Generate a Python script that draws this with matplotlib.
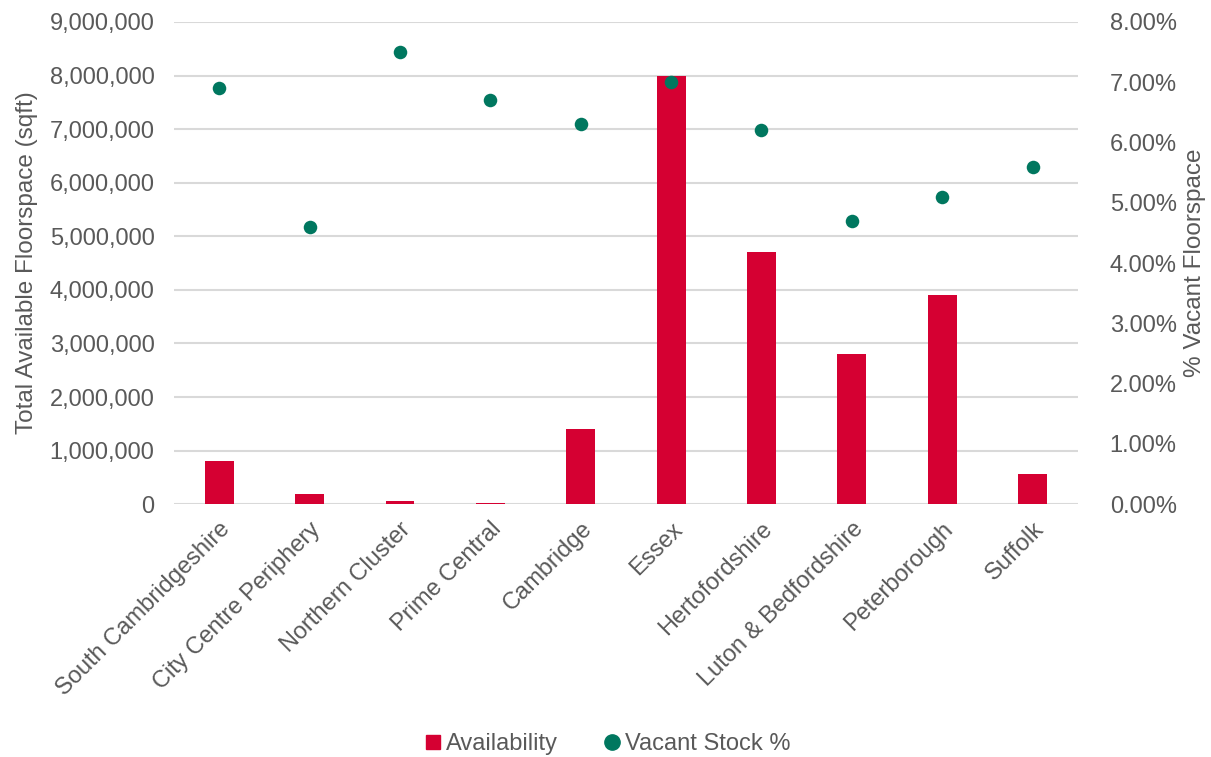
import matplotlib
matplotlib.use("Agg")
import matplotlib.pyplot as plt
from matplotlib.ticker import FuncFormatter, MultipleLocator
from matplotlib.lines import Line2D

plt.rcParams['font.family'] = ['Liberation Sans', 'DejaVu Sans']

locations = ["South Cambridgeshire", "City Centre Periphery", "Northern Cluster",
             "Prime Central", "Cambridge", "Essex", "Hertofordshire",
             "Luton & Bedfordshire", "Peterborough", "Suffolk"]
availability_sqft = [800000, 190000, 56000, 15000, 1400000, 8000000, 4700000,
                     2800000, 3900000, 560000]
vacant_pct = [6.9, 4.6, 7.5, 6.7, 6.3, 7.0, 6.2, 4.7, 5.1, 5.6]

BAR_COLOR = "#D50032"
DOT_COLOR = "#00775F"
TEXT_COLOR = "#595959"
GRID_COLOR = "#D9D9D9"
FS = 17

fig = plt.figure(figsize=(12.11, 7.57), dpi=100)
ax = fig.add_axes([0.1437, 0.334, 0.7463, 0.637])
ax2 = ax.twinx()

x = list(range(len(locations)))
ax.bar(x, availability_sqft, width=0.32, color=BAR_COLOR, zorder=2)
ax2.scatter(x, vacant_pct, s=95, color=DOT_COLOR, zorder=3, linewidths=0)

ax.set_xlim(-0.5, len(locations) - 0.5)
ax.set_ylim(0, 9000000)
ax.yaxis.set_major_locator(MultipleLocator(1000000))
ax.yaxis.set_major_formatter(FuncFormatter(lambda v, p: f"{int(v):,}"))
ax2.set_ylim(0, 8)
ax2.yaxis.set_major_locator(MultipleLocator(1))
ax2.yaxis.set_major_formatter(FuncFormatter(lambda v, p: f"{v:.2f}%"))

ax.grid(axis='y', color=GRID_COLOR, linewidth=1.5, zorder=0)
ax.set_axisbelow(True)
for a in (ax, ax2):
    for s in a.spines.values():
        s.set_visible(False)
    a.tick_params(length=0, colors=TEXT_COLOR, labelsize=FS)

ax.set_xticks(x)
ax.set_xticklabels(locations, rotation=45, ha='right', rotation_mode='anchor')
ax.tick_params(axis='x', pad=10)
ax.tick_params(axis='y', pad=14)
ax2.tick_params(axis='y', pad=23)

ax.set_ylabel("Total Available Floorspace (sqft)", fontsize=FS + 0.5,
              color=TEXT_COLOR, labelpad=8)
ax2.set_ylabel("% Vacant Floorspace", fontsize=FS + 0.5, color=TEXT_COLOR,
               labelpad=5)

handles = [
    Line2D([], [], marker='s', linestyle='none', color=BAR_COLOR, markersize=10),
    Line2D([], [], marker='o', linestyle='none', color=DOT_COLOR, markersize=11),
]
fig.legend(handles, ["Availability", "Vacant Stock %"], loc='center',
           bbox_to_anchor=(0.5, 0.017), ncol=2, frameon=False, fontsize=FS,
           labelcolor=TEXT_COLOR, handletextpad=0.05, columnspacing=1.8,
           handlelength=1.0)

fig.savefig("out.png", dpi=100)
